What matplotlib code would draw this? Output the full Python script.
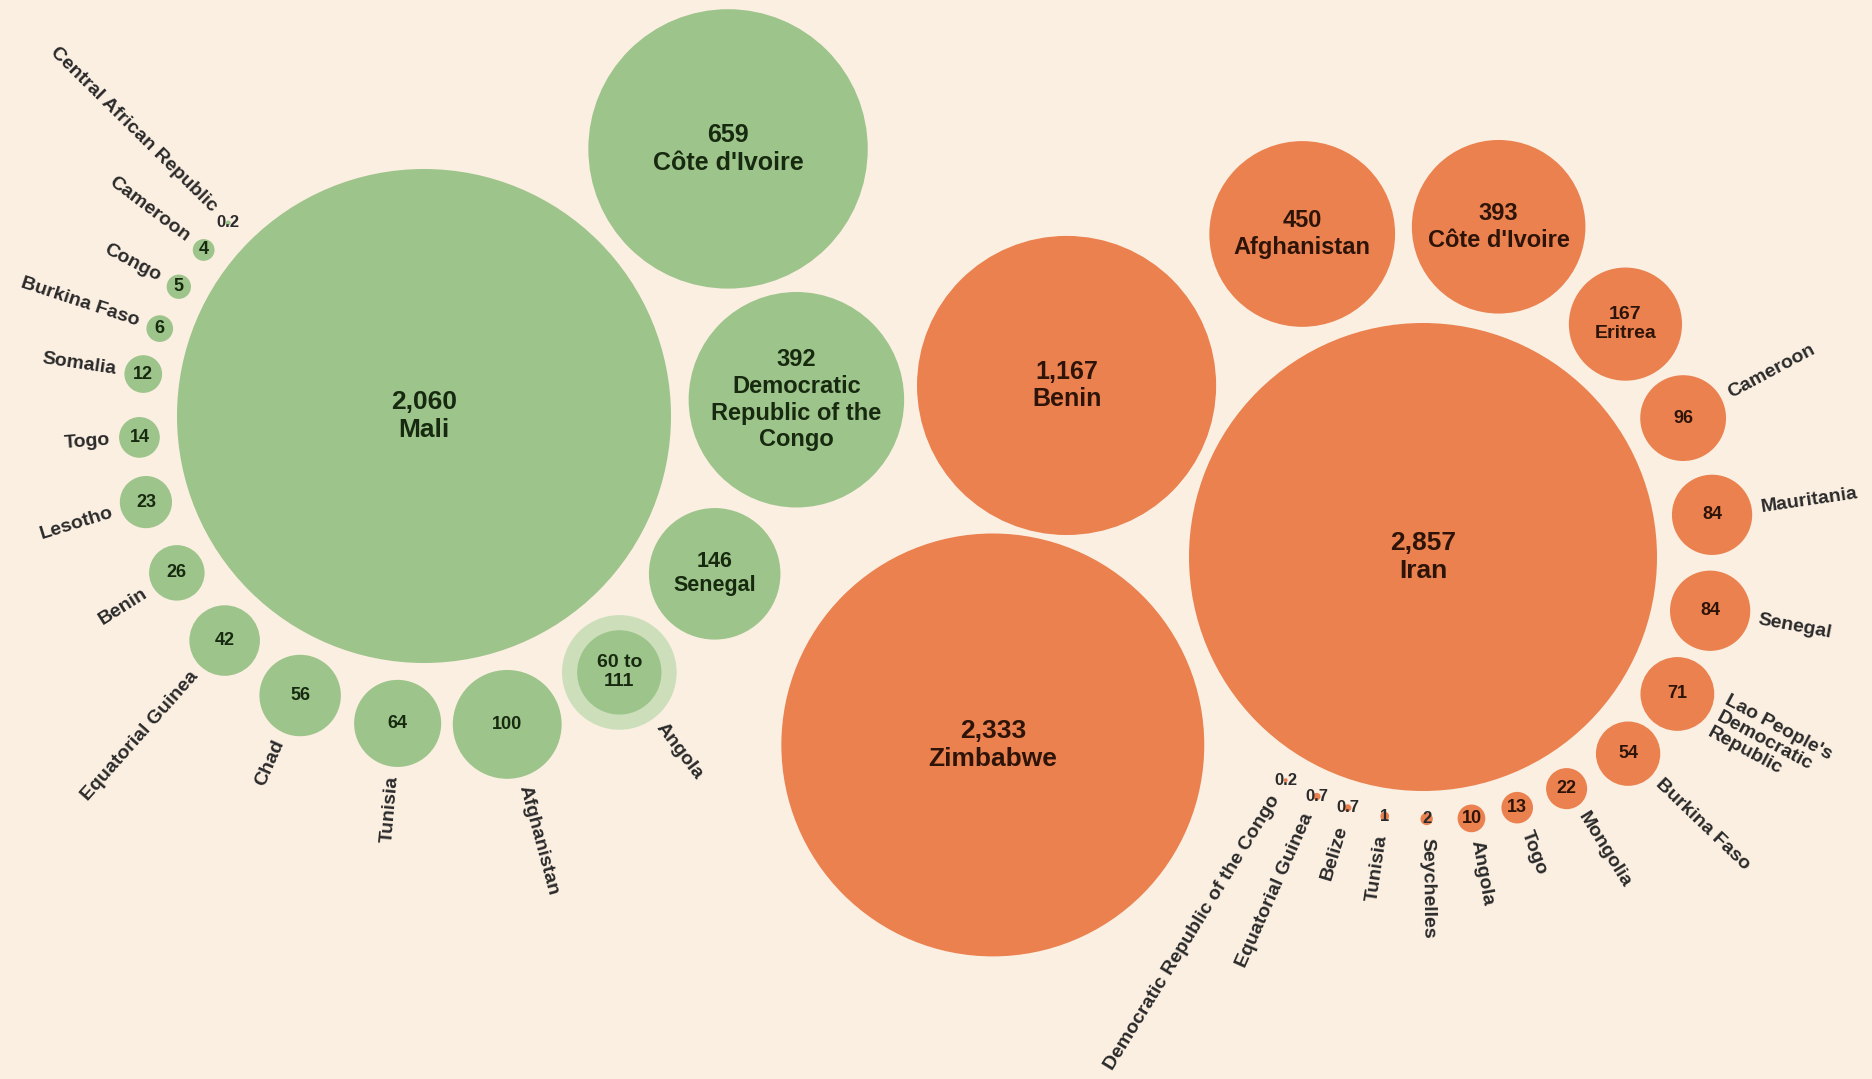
import numpy as np
import matplotlib
matplotlib.use("Agg")
import matplotlib.pyplot as plt
from matplotlib.patches import Circle

# ---------------- data ----------------
green_countries = ["Mali", "Côte d'Ivoire", "Democratic\nRepublic of the\nCongo", "Senegal",
                   "Angola", "Afghanistan", "Tunisia", "Chad", "Equatorial Guinea", "Benin",
                   "Lesotho", "Togo", "Somalia", "Burkina Faso", "Congo", "Cameroon",
                   "Central African Republic"]
green_values = [2060, 659, 392, 146, 111, 100, 64, 56, 42, 26, 23, 14, 12, 6, 5, 4, 0.2]
green_range_low = {"Angola": 60}

orange_countries = ["Iran", "Zimbabwe", "Benin", "Afghanistan", "Côte d'Ivoire", "Eritrea",
                    "Cameroon", "Mauritania", "Senegal", "Lao People's\nDemocratic\nRepublic",
                    "Burkina Faso", "Mongolia", "Togo", "Angola", "Seychelles", "Tunisia",
                    "Belize", "Equatorial Guinea", "Democratic Republic of the Congo"]
orange_values = [2857, 2333, 1167, 450, 393, 167, 96, 84, 84, 71, 54, 22, 13, 10, 2, 1,
                 0.7, 0.7, 0.2]

# ---------------- layout (angles of satellites around the hub, degrees) ----------------
green_hub = (424, 416)
green_hub_radius = 247
green_angles = [41.3, 2.5, -28.5, -52.7, -74.9, -94.9, -113.9, -131.6, -147.6, -162.8,
                -175.7, 171.5, 161.7, 152.2, 143.0, 135.4]
green_gaps = [18] * len(green_angles)

orange_hub = (1423, 557)
orange_hub_radius = 234
orange_angles = [-156.4, 154.3, 110.5, 77.1, 49.0, 28.1, 8.3, -10.6, -28.3, -43.8, -58.2,
                 -69.4, -79.5, -89.2, -98.4, -106.7, -113.9, -121.6]
orange_gaps = [24, 12] + [18] * (len(orange_angles) - 2)

BG = "#FBEFE2"
GREEN = "#9DC48B"
GREEN_HALO = "#CCDFBA"
ORANGE = "#EA814F"
GREEN_TXT = "#17290f"
ORANGE_TXT = "#2e1408"
LABEL_TXT = "#2a2a2a"
FONT = "Liberation Sans"


def fmt(v):
    if v >= 1000:
        return f"{v:,.0f}"
    return f"{v:g}"


def num_size(r):
    if r >= 200:
        return 19
    if r >= 130:
        return 18
    if r >= 80:
        return 17
    if r >= 60:
        return 15.5
    if r >= 55:
        return 14
    if r >= 10:
        return 13
    return 12


fig = plt.figure(figsize=(18.72, 10.79), dpi=100, facecolor=BG)
ax = fig.add_axes([0, 0, 1, 1])
ax.set_xlim(0, 1872)
ax.set_ylim(1079, 0)
ax.set_aspect("equal")
ax.axis("off")
ax.set_facecolor(BG)


def draw_group(countries, values, hub, hub_r, angles, gaps, color, txt_color, low=None):
    low = low or {}
    k = hub_r / np.sqrt(values[0])
    cx, cy = hub
    ax.add_patch(Circle((cx, cy), hub_r, facecolor=color, edgecolor="none", zorder=2))
    ax.text(cx, cy, f"{fmt(values[0])}\n{countries[0]}", ha="center", va="center",
            fontsize=num_size(hub_r), color=txt_color, family=FONT, weight="bold",
            linespacing=1.25, zorder=5)
    for name, v, ang, gap in zip(countries[1:], values[1:], angles, gaps):
        r = k * np.sqrt(v)
        r_eff = max(r, 10)
        a = np.deg2rad(ang)
        d = hub_r + gap + r_eff
        x = cx + d * np.cos(a)
        y = cy - d * np.sin(a)
        if name in low:
            ax.add_patch(Circle((x, y), r, facecolor=GREEN_HALO, edgecolor="none", zorder=2))
            r_in = k * np.sqrt(low[name])
            ax.add_patch(Circle((x, y), r_in, facecolor=color, edgecolor="none", zorder=3))
            num = f"{fmt(low[name])} to\n{fmt(v)}"
            nsize = 14
        else:
            ax.add_patch(Circle((x, y), r, facecolor=color, edgecolor="none", zorder=2))
            num = fmt(v)
            nsize = num_size(r)
        inside = r >= 55 and name not in low
        if inside:
            ax.text(x, y, f"{num}\n{name}", ha="center", va="center", fontsize=nsize,
                    color=txt_color, family=FONT, weight="bold", linespacing=1.2, zorder=5)
        else:
            ax.text(x, y, num, ha="center", va="center", fontsize=nsize,
                    color=txt_color if r >= 10 else LABEL_TXT, family=FONT, weight="bold",
                    linespacing=1.15, zorder=5)
            ld = r_eff + 9
            lx = x + ld * np.cos(a)
            ly = y - ld * np.sin(a)
            if np.cos(a) >= 0:
                rot, ha = ang, "left"
            else:
                rot, ha = ang + 180, "right"
            ax.text(lx, ly, name, ha=ha, va="center", rotation=rot, rotation_mode="anchor",
                    fontsize=14, color=LABEL_TXT, family=FONT, weight="bold",
                    linespacing=1.1, zorder=5)


draw_group(green_countries, green_values, green_hub, green_hub_radius, green_angles,
           green_gaps, GREEN, GREEN_TXT, green_range_low)
draw_group(orange_countries, orange_values, orange_hub, orange_hub_radius, orange_angles,
           orange_gaps, ORANGE, ORANGE_TXT)

fig.savefig("out.png", dpi=100, facecolor=BG)
